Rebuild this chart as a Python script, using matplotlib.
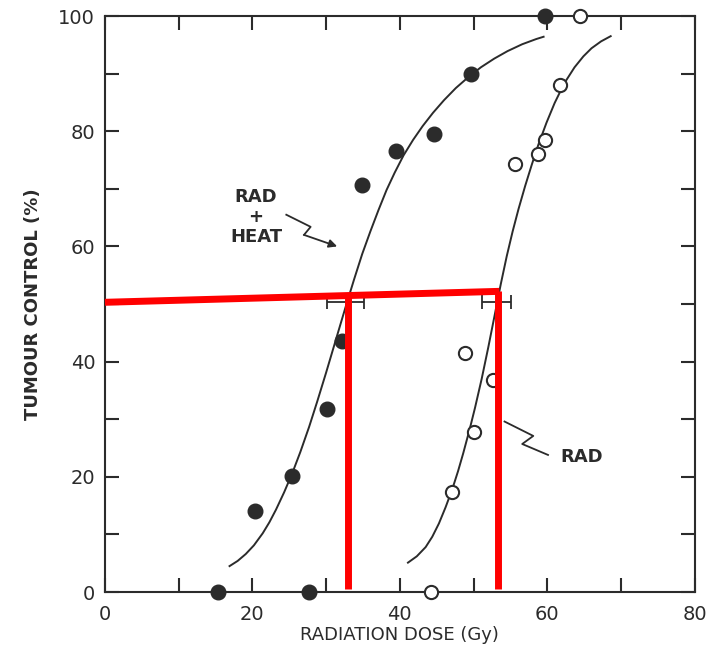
import matplotlib
matplotlib.use('Agg')
import matplotlib.pyplot as plt

plt.rcParams['font.family'] = ['DejaVu Sans']

INK = '#2b2b2b'

# 数据点 (RAD+HEAT 实心, RAD 空心)
heat_dose = [15.3, 27.7, 20.3, 25.4, 30.1, 32.2, 34.9, 39.5, 44.7, 49.7, 59.7]
heat_ctrl = [0, 0, 14.1, 20.2, 31.8, 43.5, 70.7, 76.6, 79.5, 89.9, 100]

rad_dose = [44.2, 47.1, 50.0, 52.6, 48.9, 55.6, 58.8, 59.7, 61.7, 64.5]
rad_ctrl = [0, 17.4, 27.7, 36.8, 41.5, 74.3, 76.0, 78.5, 88.0, 100]

# 拟合曲线
heat_curve_x = [16.9, 18.0, 19.1, 20.2, 21.4, 22.3, 23.2, 24.3, 25.4, 26.5, 27.7,
                28.8, 30.0, 31.3, 32.6, 33.8, 34.9, 36.0, 37.1, 38.2, 39.3, 40.5,
                41.8, 43.1, 44.5, 46.0, 47.6, 49.3, 51.0, 52.8, 54.6, 56.6, 58.5, 59.5]
heat_curve_y = [4.5, 5.4, 6.6, 8.1, 10.2, 12.1, 14.3, 17.3, 20.6, 24.3, 28.7,
                33.1, 38.1, 43.7, 49.3, 54.3, 58.7, 62.6, 66.3, 69.8, 72.8, 75.8,
                78.5, 80.9, 83.2, 85.4, 87.5, 89.4, 91.1, 92.6, 93.9, 95.1, 96.0, 96.4]

rad_curve_x = [41.1, 42.3, 43.5, 44.4, 45.3, 46.2, 47.1, 47.9, 48.6, 49.5, 50.2,
               51.1, 52.0, 52.9, 53.7, 54.5, 55.3, 56.1, 57.0, 57.9, 58.8, 59.9,
               61.0, 62.3, 63.7, 64.9, 66.0, 67.3, 68.6]
rad_curve_y = [5.1, 6.2, 7.8, 9.6, 11.9, 14.7, 17.8, 21.0, 24.1, 28.4, 32.0,
               37.0, 42.5, 48.3, 53.5, 58.3, 62.6, 66.5, 70.5, 74.2, 77.7, 81.5,
               84.9, 88.3, 91.1, 93.0, 94.4, 95.6, 96.5]

# TCD50 及误差
tcd50 = [32.6, 53.1]
tcd50_err = [2.5, 2.0]
tcd50_level = 50.3

fig = plt.figure(figsize=(7.14, 6.67), dpi=100)
ax = fig.add_axes([0.147, 0.1124, 0.826, 0.8636])

ax.plot(heat_curve_x, heat_curve_y, color=INK, lw=1.4)
ax.plot(rad_curve_x, rad_curve_y, color=INK, lw=1.4)

ax.plot(heat_dose, heat_ctrl, 'o', ms=10.5, color=INK, mec=INK, clip_on=False, zorder=5)
ax.plot(rad_dose, rad_ctrl, 'o', ms=9.5, mfc='white', mec=INK, mew=1.5, clip_on=False, zorder=5)

ax.errorbar(tcd50, [tcd50_level] * 2, xerr=tcd50_err, fmt='none', ecolor=INK,
            elinewidth=1.3, capsize=5, capthick=1.3)

# 标注
ax.text(20.5, 65.1, 'RAD\n+\nHEAT', ha='center', va='center', fontsize=13,
        fontweight='bold', color=INK, linespacing=1.15)
ax.plot([24.6, 27.9, 27.0], [65.5, 63.4, 62.0], color=INK, lw=1.3)
ax.annotate('', xy=(31.5, 60.0), xytext=(27.0, 62.0),
            arrowprops=dict(arrowstyle='-|>', color=INK, lw=1.3, mutation_scale=12,
                            shrinkA=0, shrinkB=0))
ax.text(64.6, 23.4, 'RAD', ha='center', va='center', fontsize=13,
        fontweight='bold', color=INK)
ax.plot([54.2, 58.1, 56.6, 60.1], [29.6, 27.1, 25.7, 23.8], color=INK, lw=1.3)

# 红色辅助线
ax.plot([0, 53.5], [50.3, 52.2], color='#ff0000', lw=5, solid_capstyle='butt', zorder=10, clip_on=False)
ax.plot([33.0, 33.0], [51.9, 0.6], color='#ff0000', lw=5, solid_capstyle='butt', zorder=10)
ax.plot([53.3, 53.3], [52.2, 0.6], color='#ff0000', lw=5, solid_capstyle='butt', zorder=10)

ax.set_xlim(0, 80)
ax.set_ylim(0, 100)
ax.set_xticks(range(0, 81, 10))
ax.set_xticklabels([str(v) if v % 20 == 0 else '' for v in range(0, 81, 10)])
ax.set_yticks(range(0, 101, 10))
ax.set_yticklabels([str(v) if v % 20 == 0 else '' for v in range(0, 101, 10)])
ax.tick_params(direction='in', length=10, width=1.5, color=INK, top=True, right=True,
               labelsize=14, labelcolor=INK)
ax.tick_params(axis='x', pad=9)
ax.tick_params(axis='y', pad=7)
for s in ax.spines.values():
    s.set_linewidth(1.5)
    s.set_color(INK)

ax.set_xlabel('RADIATION DOSE (Gy)', fontsize=13, color=INK, labelpad=2)
ax.set_ylabel('TUMOUR CONTROL (%)', fontsize=13, color=INK, fontweight='bold', labelpad=12)

fig.savefig('out.png', dpi=100)
